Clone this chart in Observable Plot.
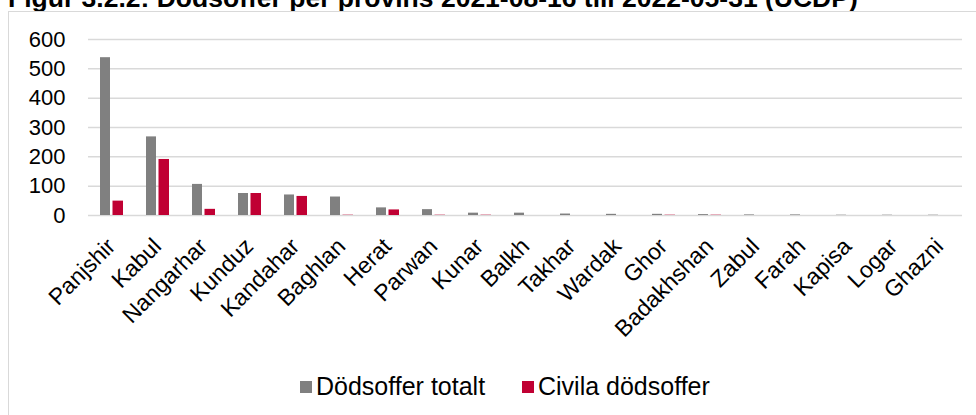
<!DOCTYPE html>
<html>
<head>
<meta charset="utf-8">
<script src="https://cdn.jsdelivr.net/npm/d3@7"></script>
<script src="https://cdn.jsdelivr.net/npm/@observablehq/plot@0.6"></script>
<style>
  body { margin: 0; background: #fff; width: 976px; height: 415px; overflow: hidden; position: relative;
         font-family: "Liberation Sans", Arial, sans-serif; color: #000; }
  #title { position: absolute; left: 8px; top: -14px; font-size: 26.5px; font-weight: bold; line-height: 25px; white-space: nowrap; }
  #frame { position: absolute; left: 8px; top: 11px; width: 1000px; height: 500px; border: 1.5px solid #d9d9d9; box-sizing: border-box; }
  #chart { position: absolute; left: 0; top: 0; }
  .sw { position: absolute; width: 12px; height: 12px; top: 381px; }
  .lt { position: absolute; font-size: 25px; line-height: 25px; top: 374px; white-space: nowrap; }
</style>
</head>
<body>
<div id="title">Figur 3.2.2: Dödsoffer per provins 2021-08-16 till 2022-05-31 (UCDP)</div>
<div id="frame"></div>
<div id="chart"></div>
<div id="legend"></div>
<script>
const provinces = ["Panjshir", "Kabul", "Nangarhar", "Kunduz", "Kandahar", "Baghlan", "Herat", "Parwan", "Kunar", "Balkh", "Takhar", "Wardak", "Ghor", "Badakhshan", "Zabul", "Farah", "Kapisa", "Logar", "Ghazni"];
const totals    = [538, 268, 106, 75, 70, 63, 26, 20, 8, 8, 5, 4, 4, 3, 2, 2, 1, 1, 1];
const civilians = [49, 191, 21, 75, 65, 1, 19, 1, 1, 0, 0, 0, 1, 1, 0, 0, 0, 0, 0];
const seriesNames = ["Dödsoffer totalt", "Civila dödsoffer"];
const seriesColors = ["#808080", "#c00033"];
const yTicks = [0, 100, 200, 300, 400, 500, 600];

const totalRows = provinces.map((p, i) => ({province: p, value: totals[i]}));
const civilRows = provinces.map((p, i) => ({province: p, value: civilians[i]}));

const chart = Plot.plot({
  width: 976,
  height: 340,
  marginLeft: 88,
  marginRight: 14,
  marginTop: 39,
  marginBottom: 125,
  x: {domain: provinces, padding: 0, round: false, label: null},
  y: {domain: [0, 600], label: null},
  style: {fontFamily: "'Liberation Sans', Arial, sans-serif", fontSize: "21px", color: "#000", background: "transparent", overflow: "visible"},
  marks: [
    Plot.gridY(yTicks, {stroke: "#d9d9d9", strokeOpacity: 1, strokeWidth: 1.5}),
    Plot.barY(totalRows, {x: "province", y: "value", fill: seriesColors[0], insetLeft: 12, insetRight: 24}),
    Plot.barY(civilRows, {x: "province", y: "value", fill: seriesColors[1], insetLeft: 24.5, insetRight: 11}),
    Plot.axisY(yTicks, {tickSize: 0, tickPadding: 23, fontSize: 22, tickFormat: d => String(d)}),
    Plot.axisX({tickRotate: -45, tickSize: 0, tickPadding: 27, fontSize: 23})
  ]
});
document.getElementById("chart").appendChild(chart);

const legend = document.getElementById("legend");
const swX = [300, 522];
const txX = [316, 538];
seriesNames.forEach((name, i) => {
  const sw = document.createElement("div");
  sw.className = "sw";
  sw.style.left = swX[i] + "px";
  sw.style.background = seriesColors[i];
  legend.appendChild(sw);
  const t = document.createElement("div");
  t.className = "lt";
  t.style.left = txX[i] + "px";
  t.textContent = name;
  legend.appendChild(t);
});
</script>
</body>
</html>
